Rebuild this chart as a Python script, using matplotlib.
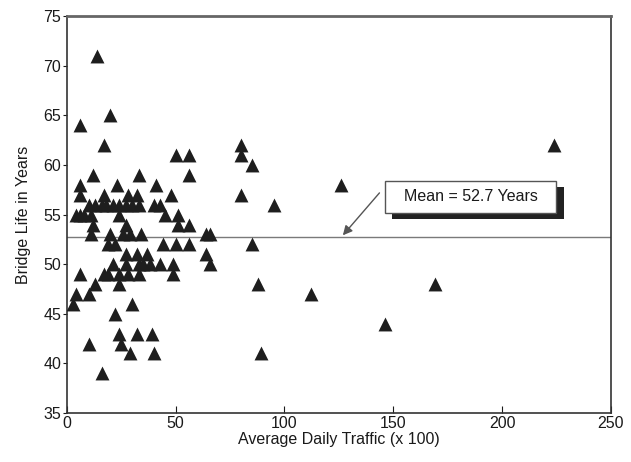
import matplotlib
matplotlib.use("Agg")
import matplotlib.pyplot as plt
from matplotlib.patches import Rectangle

plt.rcParams['font.family'] = ['Liberation Sans', 'DejaVu Sans']

# Bridge life (years) grouped by value, with average daily traffic (x 100)
life_groups = {
    71: [14],
    65: [20],
    64: [6],
    62: [17, 80, 224],
    61: [50, 56, 80],
    60: [85],
    59: [12, 33, 56],
    58: [6, 23, 41, 126],
    57: [6, 17, 28, 32, 48, 80],
    56: [10, 13, 16, 18, 21, 24, 27, 30, 33, 40, 43, 95],
    55: [4, 6, 8, 11, 24, 45, 51],
    54: [12, 27, 51, 56],
    53: [11, 20, 26, 29, 34, 64, 66],
    52: [19, 22, 44, 50, 56, 85],
    51: [27, 32, 37, 64],
    50: [21, 27, 33, 35, 38, 43, 49, 66],
    49: [6, 17, 19, 24, 28, 33, 49],
    48: [13, 24, 88, 169],
    47: [4, 10, 112],
    46: [3, 30],
    45: [22],
    44: [146],
    43: [24, 32, 39],
    42: [10, 25],
    41: [29, 40, 89],
    39: [16],
}
traffic = [x for y, xs in life_groups.items() for x in xs]
life = [y for y, xs in life_groups.items() for x in xs]
mean_life = 52.7
x_ticks = [0, 50, 100, 150, 200, 250]
y_ticks = [35, 40, 45, 50, 55, 60, 65, 70, 75]

fig = plt.figure(figsize=(6.31, 4.62), dpi=100)
ax = fig.add_axes([0.106, 0.106, 0.862, 0.859])

ax.scatter(traffic, life, marker='^', s=100, color='#1e1e1e', linewidths=0, zorder=3)
ax.axhline(mean_life, color='#7a7a7a', lw=1.0, zorder=2)

ax.set_xlim(0, 250)
ax.set_ylim(35, 75)
ax.set_xticks(x_ticks)
ax.set_yticks(y_ticks)
ax.tick_params(axis='x', direction='in', length=5, labelsize=11.5, pad=2, colors='#1a1a1a')
ax.tick_params(axis='y', direction='out', length=3, labelsize=11.5, pad=1, colors='#1a1a1a')
for side, sp in ax.spines.items():
    sp.set_color('#333333')
    sp.set_linewidth(1.2)
ax.spines['top'].set_linewidth(2.0)
ax.spines['top'].set_color('#666666')

ax.set_xlabel('Average Daily Traffic (x 100)', fontsize=11.5, labelpad=1, color='#1a1a1a')
ax.set_ylabel('Bridge Life in Years', fontsize=11.5, labelpad=9, color='#1a1a1a')

# annotation box with shadow
ax.add_patch(Rectangle((149.5, 54.6), 79, 3.2, facecolor='#222222', edgecolor='none', zorder=4))
ax.add_patch(Rectangle((146, 55.2), 79, 3.2, facecolor='white', edgecolor='#555555', lw=1.0, zorder=5))
ax.text(185.5, 56.8, 'Mean = 52.7 Years', ha='center', va='center', fontsize=11.5, color='#1a1a1a', zorder=6)
ax.annotate('', xy=(126, mean_life), xytext=(144.5, 57.4),
            arrowprops=dict(arrowstyle='-|>', color='#555555', lw=1.0, mutation_scale=14), zorder=4)

fig.savefig('out.png', dpi=100)
